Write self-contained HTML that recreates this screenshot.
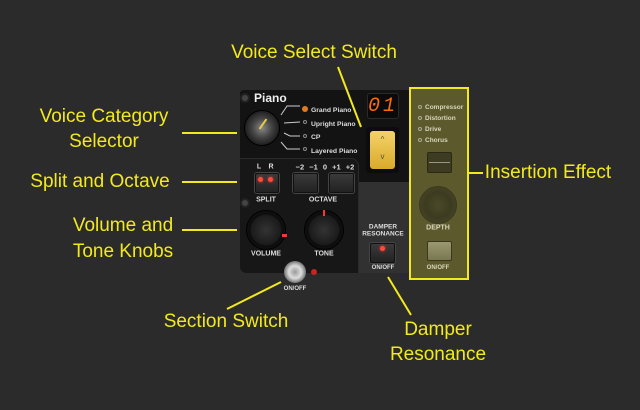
<!DOCTYPE html>
<html><head><meta charset="utf-8"><style>
*{margin:0;padding:0;box-sizing:border-box}
body{width:640px;height:410px;background:#2b2b2b;position:relative;overflow:hidden;font-family:"Liberation Sans",sans-serif}
.a{position:absolute}
.lbl{position:absolute;color:#f2ea1c;font-size:19px;white-space:nowrap;transform:translate(-50%,-50%);font-family:"Liberation Sans Narrow","Liberation Sans",sans-serif}
.t{position:absolute;color:#ddd;font-size:7px;font-weight:bold;white-space:nowrap;transform:translate(-50%,-50%)}
.btn{position:absolute;background:linear-gradient(#3a3a3a,#222);border:1px solid #111;border-radius:2px;box-shadow:0 0 0 1px #444}
.knob{position:absolute;border-radius:50%;background:radial-gradient(circle,#333 0,#1b1b1b 55%,#0c0c0c 60%,#202020 100%);border:1px solid #000}
.led{position:absolute;width:5px;height:5px;border-radius:50%;background:#ff4a3a;box-shadow:0 0 3px #f33}
.sl{position:absolute;width:4px;height:4px;border-radius:50%;border:1px solid #888}
</style></head><body>
<div class="a" style="left:240px;top:90px;width:170px;height:183px;background:#313131;border-radius:4px"></div>
<div class="a" style="left:240px;top:90px;width:170px;height:92px;background:#131313;border-radius:4px 0 0 0"></div>
<div class="a" style="left:240px;top:158px;width:119px;height:115px;background:#171717;border-radius:0 8px 0 6px;border-top:1px solid #2a2a2a;border-right:1px solid #2a2a2a"></div>
<div class="a" style="left:240px;top:150px;width:119px;height:8px;background:#131313"></div>
<div class="a" style="left:240px;top:93px;width:10px;height:10px;border-radius:50%;background:#444;border:2px solid #222"></div>
<div class="a" style="left:254px;top:91px;color:#eee;font-size:12px;font-weight:bold">Piano</div>
<div class="knob" style="left:244px;top:110px;width:36px;height:36px;background:radial-gradient(circle,#888 0,#444 40%,#1a1a1a 75%,#0a0a0a 100%)"></div>
<div class="a" style="left:262px;top:118px;width:2px;height:12px;background:#e6c84a;transform:rotate(35deg)"></div>
<svg class="a" style="left:0;top:0" width="640" height="410">
<g stroke="#ccc" stroke-width="1" fill="none">
<path d="M281 115 L287 106 L300 106"/><path d="M284 123 L300 122"/><path d="M284 133 L290 136 L300 136"/><path d="M281 142 L287 149 L300 149"/>
</g>
<g stroke="#f2ea1c" stroke-width="2">
<line x1="182" y1="133" x2="237" y2="133"/>
<line x1="182" y1="182" x2="237" y2="182"/>
<line x1="182" y1="230" x2="237" y2="230"/>
<line x1="338" y1="67" x2="361" y2="127"/>
<line x1="227" y1="309" x2="281" y2="282"/>
<line x1="388" y1="277" x2="411" y2="315"/>
<line x1="469" y1="173" x2="483" y2="173"/>
</g>
</svg>
<div class="a" style="left:302px;top:106px;width:6px;height:6px;border-radius:50%;background:#e07a20"></div>
<div class="sl" style="left:303px;top:120px"></div><div class="sl" style="left:303px;top:134px"></div><div class="sl" style="left:303px;top:147px"></div>
<div class="a" style="left:311px;top:104px;color:#ddd;font-size:6.8px;font-weight:bold;line-height:13.5px">Grand Piano<br>Upright Piano<br>CP<br>Layered Piano</div>
<div class="a" style="left:367px;top:93px;width:32px;height:26px;background:#0a0a0a;border:1px solid #2a2a2a;border-radius:3px;color:#ff6a00;font-size:20px;font-style:italic;text-align:center;line-height:25px;letter-spacing:3px;font-family:'Liberation Mono',monospace">01</div>
<div class="a" style="left:366px;top:127px;width:33px;height:46px;background:#0c0c0c;border-radius:3px"></div>
<div class="a" style="left:370px;top:131px;width:25px;height:38px;background:linear-gradient(#f5d36a,#d9a92a);border-radius:3px;color:#553;font-size:8px;text-align:center;line-height:17px">^<br>v</div>
<div class="t" style="left:259px;top:167px">L</div><div class="t" style="left:271px;top:167px">R</div>
<div class="t" style="left:325px;top:167px;font-size:7.5px;word-spacing:3px">−2 −1 0 +1 +2</div>
<div class="btn" style="left:255px;top:173px;width:24px;height:20px"></div>
<div class="led" style="left:258px;top:177px"></div><div class="led" style="left:268px;top:177px"></div>
<div class="btn" style="left:293px;top:173px;width:25px;height:20px"></div>
<div class="btn" style="left:329px;top:173px;width:25px;height:20px"></div>
<div class="t" style="left:266px;top:200px">SPLIT</div><div class="t" style="left:323px;top:200px">OCTAVE</div>
<div class="a" style="left:240px;top:198px;width:10px;height:10px;border-radius:50%;background:#444;border:2px solid #222"></div>
<div class="knob" style="left:246px;top:210px;width:40px;height:40px"></div>
<div class="a" style="left:282px;top:234px;width:5px;height:3px;background:#f33"></div>
<div class="knob" style="left:304px;top:210px;width:40px;height:40px"></div>
<div class="a" style="left:323px;top:210px;width:2px;height:6px;background:#f33"></div>
<div class="t" style="left:266px;top:254px">VOLUME</div><div class="t" style="left:324px;top:254px">TONE</div>
<div class="t" style="left:383px;top:227px;font-size:6.5px">DAMPER</div><div class="t" style="left:383px;top:234px;font-size:6.5px">RESONANCE</div>
<div class="btn" style="left:370px;top:243px;width:25px;height:20px"></div>
<div class="led" style="left:380px;top:246px"></div>
<div class="t" style="left:383px;top:268px;font-size:6px">ON/OFF</div>
<div class="a" style="left:284px;top:261px;width:22px;height:22px;border-radius:50%;background:radial-gradient(circle,#999 0,#ddd 40%,#777 70%,#333 100%)"></div>
<div class="a" style="left:311px;top:269px;width:6px;height:6px;border-radius:50%;background:#c22"></div>
<div class="t" style="left:295px;top:289px;font-size:6px">ON/OFF</div>
<div class="a" style="left:409px;top:87px;width:60px;height:193px;background:#5c5a2c;border:2px solid #f2ea1c"></div>
<div class="sl" style="left:418px;top:105px;border-color:#aa9"></div><div class="sl" style="left:418px;top:116px;border-color:#aa9"></div><div class="sl" style="left:418px;top:127px;border-color:#aa9"></div><div class="sl" style="left:418px;top:138px;border-color:#aa9"></div>
<div class="a" style="left:425px;top:102px;color:#d8d6bc;font-size:6.5px;font-weight:bold;line-height:11px">Compressor<br>Distortion<br>Drive<br>Chorus</div>
<div class="a" style="left:427px;top:152px;width:25px;height:21px;background:#3d3c22;border:1px solid #2a2914;border-radius:2px"></div>
<div class="a" style="left:429px;top:162px;width:21px;height:1px;background:#9a9878"></div>
<div class="a" style="left:419px;top:186px;width:38px;height:38px;border-radius:50%;background:radial-gradient(circle,#4a4928 0,#3c3b20 50%,#4d4c2a 100%);border:1px solid #3a391e"></div>
<div class="t" style="left:438px;top:228px;color:#d8d6bc">DEPTH</div>
<div class="a" style="left:427px;top:241px;width:25px;height:20px;background:linear-gradient(#9a9870,#7a7850);border:1px solid #3a391e;border-radius:2px"></div>
<div class="t" style="left:438px;top:268px;font-size:6px;color:#d8d6bc">ON/OFF</div>
<div class="lbl" style="left:314px;top:53px">Voice Select Switch</div>
<div class="lbl" style="left:104px;top:117px">Voice Category</div>
<div class="lbl" style="left:104px;top:142px">Selector</div>
<div class="lbl" style="left:100px;top:182px">Split and Octave</div>
<div class="lbl" style="left:123px;top:226px">Volume and</div>
<div class="lbl" style="left:123px;top:252px">Tone Knobs</div>
<div class="lbl" style="left:226px;top:322px">Section Switch</div>
<div class="lbl" style="left:438px;top:330px">Damper</div>
<div class="lbl" style="left:438px;top:355px">Resonance</div>
<div class="lbl" style="left:548px;top:173px">Insertion Effect</div>
</body></html>
